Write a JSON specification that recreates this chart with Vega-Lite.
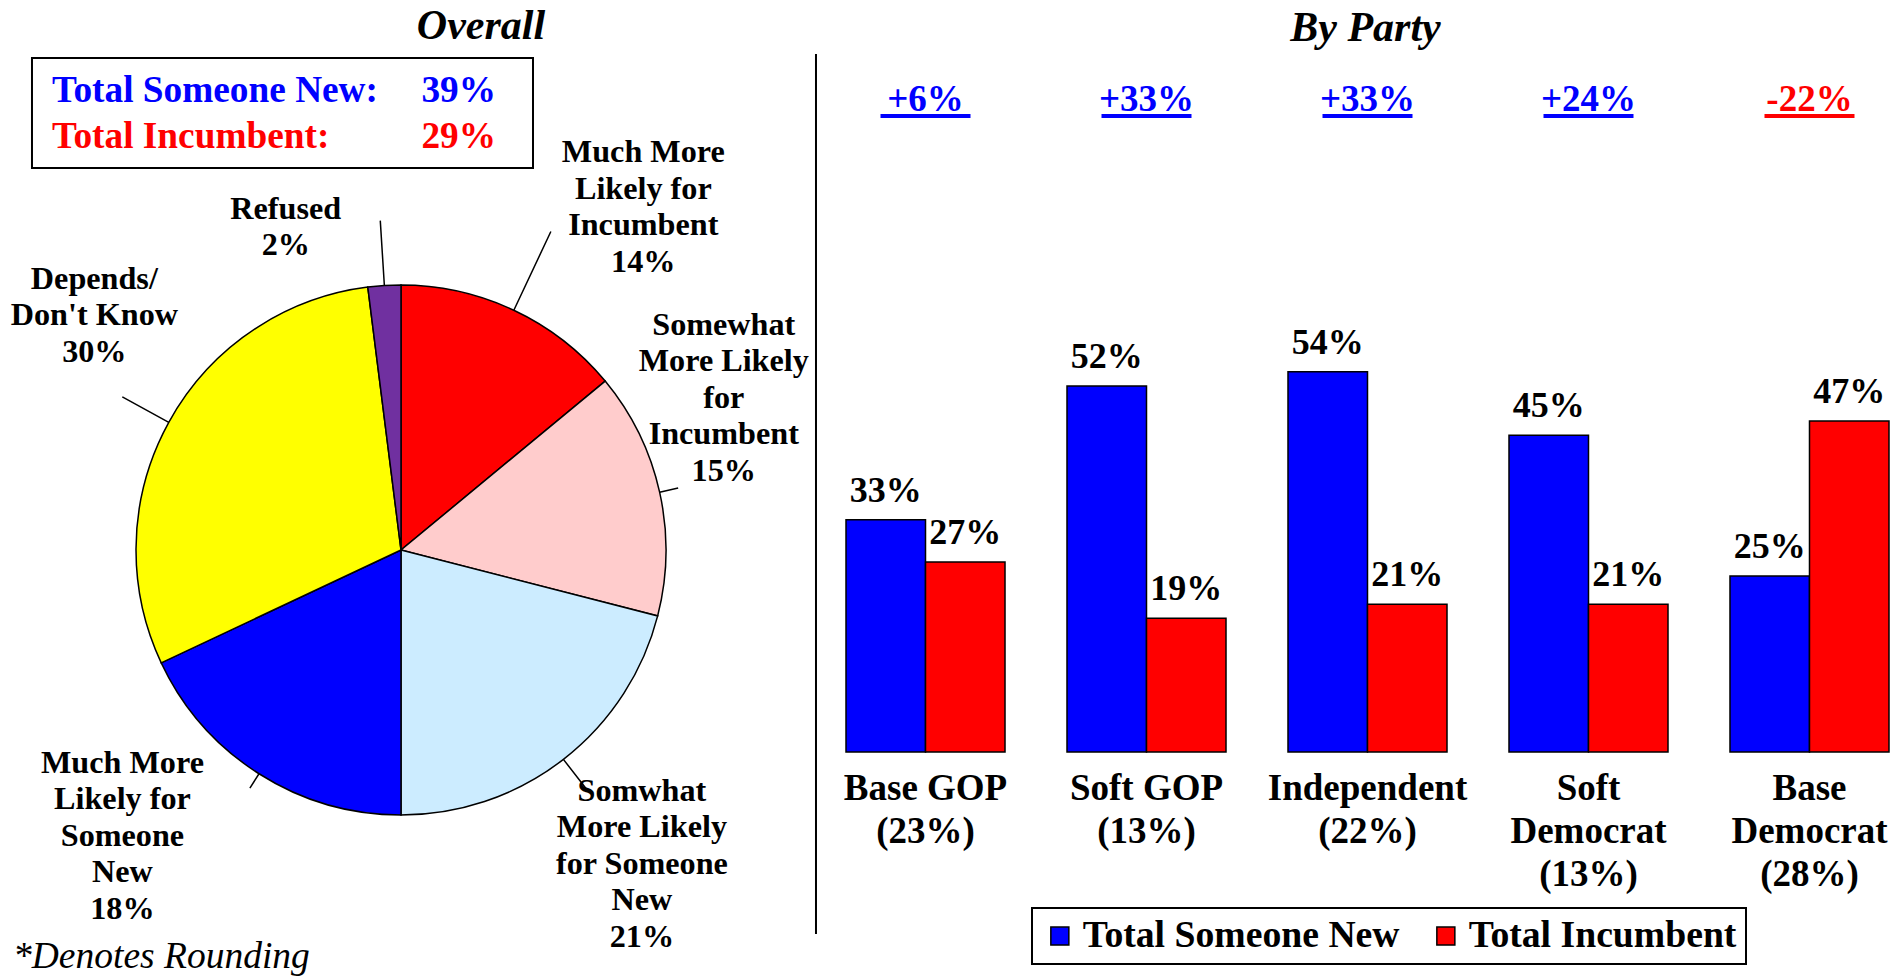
{
  "$schema": "https://vega.github.io/schema/vega-lite/v6.json",
  "background": "white",
  "padding": {"left": 0, "top": 4, "right": 0, "bottom": 0},
  "datasets": {
    "pie": [
      {"category": "Much More Likely for Incumbent", "rank": 1, "value": 14, "label": "Much More\nLikely for\nIncumbent\n14%"},
      {"category": "Somewhat More Likely for Incumbent", "rank": 2, "value": 15, "label": "Somewhat\nMore Likely\nfor\nIncumbent\n15%"},
      {"category": "Somwhat More Likely for Someone New", "rank": 3, "value": 21, "label": "Somwhat\nMore Likely\nfor Someone\nNew\n21%"},
      {"category": "Much More Likely for Someone New", "rank": 4, "value": 18, "label": "Much More\nLikely for\nSomeone\nNew\n18%"},
      {"category": "Depends/Don't Know", "rank": 5, "value": 30, "label": "Depends/\nDon't Know\n30%"},
      {"category": "Refused", "rank": 6, "value": 2, "label": "Refused\n2%"}
    ],
    "summary": [
      {"name": "Total Someone New:", "pct": 0.39},
      {"name": "Total Incumbent:", "pct": 0.29}
    ],
    "bars": [
      {"party": "Base GOP", "series": "Total Someone New", "value": 0.33},
      {"party": "Base GOP", "series": "Total Incumbent", "value": 0.27},
      {"party": "Soft GOP", "series": "Total Someone New", "value": 0.52},
      {"party": "Soft GOP", "series": "Total Incumbent", "value": 0.19},
      {"party": "Independent", "series": "Total Someone New", "value": 0.54},
      {"party": "Independent", "series": "Total Incumbent", "value": 0.21},
      {"party": "Soft Democrat", "series": "Total Someone New", "value": 0.45},
      {"party": "Soft Democrat", "series": "Total Incumbent", "value": 0.21},
      {"party": "Base Democrat", "series": "Total Someone New", "value": 0.25},
      {"party": "Base Democrat", "series": "Total Incumbent", "value": 0.47}
    ],
    "parties": [
      {"party": "Base GOP", "label": "Base GOP\n(23%)", "diff": "+6%"},
      {"party": "Soft GOP", "label": "Soft GOP\n(13%)", "diff": "+33%"},
      {"party": "Independent", "label": "Independent\n(22%)", "diff": "+33%"},
      {"party": "Soft Democrat", "label": "Soft\nDemocrat\n(13%)", "diff": "+24%"},
      {"party": "Base Democrat", "label": "Base\nDemocrat\n(28%)", "diff": "-22%"}
    ]
  },
  "hconcat": [
    {
      "width": 802,
      "height": 848,
      "title": {"text": "Overall", "font": "Liberation Serif", "fontSize": 42, "fontWeight": "bold", "fontStyle": "italic", "color": "black", "anchor": "middle", "frame": "group", "dx": 80, "offset": 5},
      "data": {"name": "pie"},
      "layer": [
        {
          "data": {"values": [{}]},
          "mark": {"type": "rect", "fill": "white", "stroke": "black", "strokeWidth": 2},
          "encoding": {
            "x": {"datum": -1.3925, "type": "quantitative", "axis": null, "scale": {"domain": [-1.5132, 1.5132], "nice": false, "zero": false}},
            "x2": {"datum": 0.4981},
            "y": {"datum": 1.8566, "type": "quantitative", "axis": null, "scale": {"domain": [-1.6, 1.6], "nice": false, "zero": false}},
            "y2": {"datum": 1.4415}
          }
        },
        {
          "data": {"name": "summary"},
          "transform": [{"filter": "datum.name === 'Total Someone New:'"}],
          "mark": {"type": "text", "align": "left", "baseline": "alphabetic", "fontSize": 37.3, "fontWeight": "bold", "color": "#0000FF"},
          "encoding": {
            "text": {"field": "name"},
            "x": {"datum": -1.317, "type": "quantitative", "axis": null},
            "y": {"datum": 1.6906, "type": "quantitative", "axis": null}
          }
        },
        {
          "data": {"name": "summary"},
          "transform": [{"filter": "datum.name === 'Total Someone New:'"}],
          "mark": {"type": "text", "align": "right", "baseline": "alphabetic", "fontSize": 37.3, "fontWeight": "bold", "color": "#0000FF"},
          "encoding": {
            "text": {"field": "pct", "format": ".0%"},
            "x": {"datum": 0.3585, "type": "quantitative", "axis": null},
            "y": {"datum": 1.6906, "type": "quantitative", "axis": null}
          }
        },
        {
          "data": {"name": "summary"},
          "transform": [{"filter": "datum.name === 'Total Incumbent:'"}],
          "mark": {"type": "text", "align": "left", "baseline": "alphabetic", "fontSize": 37.3, "fontWeight": "bold", "color": "#FF0000"},
          "encoding": {
            "text": {"field": "name"},
            "x": {"datum": -1.317, "type": "quantitative", "axis": null},
            "y": {"datum": 1.517, "type": "quantitative", "axis": null}
          }
        },
        {
          "data": {"name": "summary"},
          "transform": [{"filter": "datum.name === 'Total Incumbent:'"}],
          "mark": {"type": "text", "align": "right", "baseline": "alphabetic", "fontSize": 37.3, "fontWeight": "bold", "color": "#FF0000"},
          "encoding": {
            "text": {"field": "pct", "format": ".0%"},
            "x": {"datum": 0.3585, "type": "quantitative", "axis": null},
            "y": {"datum": 1.517, "type": "quantitative", "axis": null}
          }
        },
        {
          "mark": {"type": "arc", "radius": 265, "stroke": "black", "strokeWidth": 1.5},
          "encoding": {
            "theta": {"field": "value", "type": "quantitative", "stack": true},
            "order": {"field": "rank", "type": "quantitative"},
            "color": {
              "field": "category", "type": "nominal", "legend": null,
              "scale": {
                "domain": ["Much More Likely for Incumbent", "Somewhat More Likely for Incumbent", "Somwhat More Likely for Someone New", "Much More Likely for Someone New", "Depends/Don't Know", "Refused"],
                "range": ["#FF0000", "#FFCCCC", "#CCECFF", "#0000FF", "#FFFF00", "#7030A0"]
              }
            }
          }
        },
        {
          "mark": {"type": "arc", "radius": 352, "radius2": 265, "padAngle": 3, "filled": false, "stroke": "black", "strokeWidth": 1.5},
          "encoding": {"theta": {"field": "value", "type": "quantitative", "stack": true}, "order": {"field": "rank", "type": "quantitative"}, "strokeOpacity": {"condition": {"test": "datum.rank === 1", "value": 1}, "value": 0}}
        },
        {
          "mark": {"type": "arc", "radius": 284, "radius2": 265, "padAngle": 3, "filled": false, "stroke": "black", "strokeWidth": 1.5},
          "encoding": {"theta": {"field": "value", "type": "quantitative", "stack": true}, "order": {"field": "rank", "type": "quantitative"}, "strokeOpacity": {"condition": {"test": "datum.rank === 2", "value": 1}, "value": 0}}
        },
        {
          "mark": {"type": "arc", "radius": 306, "radius2": 265, "padAngle": 3, "filled": false, "stroke": "black", "strokeWidth": 1.5},
          "encoding": {"theta": {"field": "value", "type": "quantitative", "stack": true}, "order": {"field": "rank", "type": "quantitative"}, "strokeOpacity": {"condition": {"test": "datum.rank === 3", "value": 1}, "value": 0}}
        },
        {
          "mark": {"type": "arc", "radius": 282, "radius2": 265, "padAngle": 3, "filled": false, "stroke": "black", "strokeWidth": 1.5},
          "encoding": {"theta": {"field": "value", "type": "quantitative", "stack": true}, "order": {"field": "rank", "type": "quantitative"}, "strokeOpacity": {"condition": {"test": "datum.rank === 4", "value": 1}, "value": 0}}
        },
        {
          "mark": {"type": "arc", "radius": 318, "radius2": 265, "padAngle": 3, "filled": false, "stroke": "black", "strokeWidth": 1.5},
          "encoding": {"theta": {"field": "value", "type": "quantitative", "stack": true}, "order": {"field": "rank", "type": "quantitative"}, "strokeOpacity": {"condition": {"test": "datum.rank === 5", "value": 1}, "value": 0}}
        },
        {
          "mark": {"type": "arc", "radius": 330, "radius2": 265, "padAngle": 3, "filled": false, "stroke": "black", "strokeWidth": 1.5},
          "encoding": {"theta": {"field": "value", "type": "quantitative", "stack": true}, "order": {"field": "rank", "type": "quantitative"}, "strokeOpacity": {"condition": {"test": "datum.rank === 6", "value": 1}, "value": 0}}
        },
        {
          "mark": {"type": "text", "radius": 454, "dx": 49, "dy": 23, "align": "center", "baseline": "alphabetic", "lineBreak": "\n", "lineHeight": 36.5, "fontSize": 32.2, "fontWeight": "bold", "color": "black"},
          "encoding": {"theta": {"field": "value", "type": "quantitative", "stack": true}, "order": {"field": "rank", "type": "quantitative"}, "text": {"condition": {"test": "datum.rank === 1", "field": "label"}, "value": ""}}
        },
        {
          "mark": {"type": "text", "radius": 300, "dx": 30, "dy": -150, "align": "center", "baseline": "alphabetic", "lineBreak": "\n", "lineHeight": 36.5, "fontSize": 32.2, "fontWeight": "bold", "color": "black"},
          "encoding": {"theta": {"field": "value", "type": "quantitative", "stack": true}, "order": {"field": "rank", "type": "quantitative"}, "text": {"condition": {"test": "datum.rank === 2", "field": "label"}, "value": ""}}
        },
        {
          "mark": {"type": "text", "radius": 349, "dx": 27, "dy": -25, "align": "center", "baseline": "alphabetic", "lineBreak": "\n", "lineHeight": 36.5, "fontSize": 32.2, "fontWeight": "bold", "color": "black"},
          "encoding": {"theta": {"field": "value", "type": "quantitative", "stack": true}, "order": {"field": "rank", "type": "quantitative"}, "text": {"condition": {"test": "datum.rank === 3", "field": "label"}, "value": ""}}
        },
        {
          "mark": {"type": "text", "radius": 337, "dx": -98, "dy": -62, "align": "center", "baseline": "alphabetic", "lineBreak": "\n", "lineHeight": 36.5, "fontSize": 32.2, "fontWeight": "bold", "color": "black"},
          "encoding": {"theta": {"field": "value", "type": "quantitative", "stack": true}, "order": {"field": "rank", "type": "quantitative"}, "text": {"condition": {"test": "datum.rank === 4", "field": "label"}, "value": ""}}
        },
        {
          "mark": {"type": "text", "radius": 399, "dx": 43, "dy": -69, "align": "center", "baseline": "alphabetic", "lineBreak": "\n", "lineHeight": 36.5, "fontSize": 32.2, "fontWeight": "bold", "color": "black"},
          "encoding": {"theta": {"field": "value", "type": "quantitative", "stack": true}, "order": {"field": "rank", "type": "quantitative"}, "text": {"condition": {"test": "datum.rank === 5", "field": "label"}, "value": ""}}
        },
        {
          "mark": {"type": "text", "radius": 338, "dx": -94, "dy": 6, "align": "center", "baseline": "alphabetic", "lineBreak": "\n", "lineHeight": 36.5, "fontSize": 32.2, "fontWeight": "bold", "color": "black"},
          "encoding": {"theta": {"field": "value", "type": "quantitative", "stack": true}, "order": {"field": "rank", "type": "quantitative"}, "text": {"condition": {"test": "datum.rank === 6", "field": "label"}, "value": ""}}
        },
        {
          "data": {"values": [{}]},
          "mark": {"type": "rule", "color": "black", "strokeWidth": 2},
          "encoding": {
            "x": {"datum": 1.566, "type": "quantitative", "axis": null},
            "y": {"datum": 1.8717, "type": "quantitative", "axis": null},
            "y2": {"datum": -1.4491}
          }
        },
        {
          "data": {"values": [{"note": "*Denotes Rounding"}]},
          "mark": {"type": "text", "align": "left", "baseline": "alphabetic", "fontSize": 37.5, "fontStyle": "italic", "fontWeight": "normal", "color": "black"},
          "encoding": {
            "text": {"field": "note"},
            "x": {"datum": -1.4642, "type": "quantitative", "axis": null},
            "y": {"datum": -1.5774, "type": "quantitative", "axis": null}
          }
        }
      ]
    },
    {
      "width": 1083,
      "height": 808,
      "title": {"text": "By Party", "font": "Liberation Serif", "fontSize": 42, "fontWeight": "bold", "fontStyle": "italic", "color": "black", "anchor": "middle", "frame": "group", "dx": 8, "offset": 31},
      "layer": [
        {
          "data": {"name": "bars"},
          "mark": {"type": "bar", "stroke": "black", "strokeWidth": 1.5},
          "encoding": {
            "x": {"field": "party", "type": "nominal", "sort": null, "axis": null, "scale": {"domain": ["Base GOP", "Soft GOP", "Independent", "Soft Democrat", "Base Democrat"], "paddingInner": 0.2805, "paddingOuter": 0.0905, "align": 0.75}},
            "xOffset": {"field": "series", "type": "nominal", "sort": null, "scale": {"domain": ["Total Someone New", "Total Incumbent"], "paddingInner": 0, "paddingOuter": 0}},
            "y": {"field": "value", "type": "quantitative", "axis": null, "scale": {"domain": [-0.2585, 0.8892], "nice": false, "zero": false}},
            "y2": {"datum": 0},
            "color": {
              "field": "series", "type": "nominal",
              "scale": {"domain": ["Total Someone New", "Total Incumbent"], "range": ["#0000FF", "#FF0000"]},
              "legend": {
                "orient": "none", "legendX": 216, "legendY": 782, "direction": "horizontal", "title": null,
                "symbolType": "square", "symbolSize": 324, "symbolStrokeColor": "black", "symbolStrokeWidth": 1.5,
                "labelFont": "Liberation Serif", "labelFontSize": 37.7, "labelFontWeight": "bold", "labelColor": "black",
                "labelOffset": 4, "labelLimit": 500, "columnPadding": 27, "padding": 9,
                "strokeColor": "black", "fillColor": "white",
                "encode": {"legend": {"update": {"strokeWidth": {"value": 2}}}}
              }
            }
          }
        },
        {
          "data": {"name": "bars"},
          "mark": {"type": "text", "baseline": "alphabetic", "align": "center", "dy": -18, "fontSize": 36, "fontWeight": "bold", "color": "black"},
          "encoding": {
            "x": {"field": "party", "type": "nominal", "sort": null, "axis": null},
            "xOffset": {"field": "series", "type": "nominal", "sort": null},
            "y": {"field": "value", "type": "quantitative", "axis": null},
            "text": {"field": "value", "format": ".0%"}
          }
        },
        {
          "data": {"name": "parties"},
          "mark": {"type": "text", "baseline": "alphabetic", "align": "center", "lineBreak": "\n", "lineHeight": 43, "fontSize": 37, "fontWeight": "bold", "color": "black"},
          "encoding": {
            "x": {"field": "party", "type": "nominal", "sort": null, "axis": null},
            "y": {"datum": -0.0682, "type": "quantitative", "axis": null},
            "text": {"field": "label"}
          }
        },
        {
          "data": {"name": "parties"},
          "mark": {"type": "text", "baseline": "alphabetic", "align": "center", "fontSize": 37, "fontWeight": "bold"},
          "encoding": {
            "x": {"field": "party", "type": "nominal", "sort": null, "axis": null},
            "y": {"datum": 0.9105, "type": "quantitative", "axis": null},
            "text": {"field": "diff"},
            "color": {"condition": {"test": "indexof(datum.diff, '-') === 0", "value": "#FF0000"}, "value": "#0000FF"}
          }
        },
        {
          "data": {"name": "parties"},
          "mark": {"type": "tick", "orient": "horizontal", "size": 90, "thickness": 4, "opacity": 1},
          "encoding": {
            "x": {"field": "party", "type": "nominal", "sort": null, "axis": null},
            "y": {"datum": 0.9034, "type": "quantitative", "axis": null},
            "color": {"condition": {"test": "indexof(datum.diff, '-') === 0", "value": "#FF0000"}, "value": "#0000FF"}
          }
        }
      ]
    }
  ],
  "spacing": 14,
  "bounds": "flush",
  "resolve": {"scale": {"color": "independent"}, "legend": {"color": "independent"}},
  "config": {"view": {"stroke": null}, "font": "Liberation Serif"}
}
